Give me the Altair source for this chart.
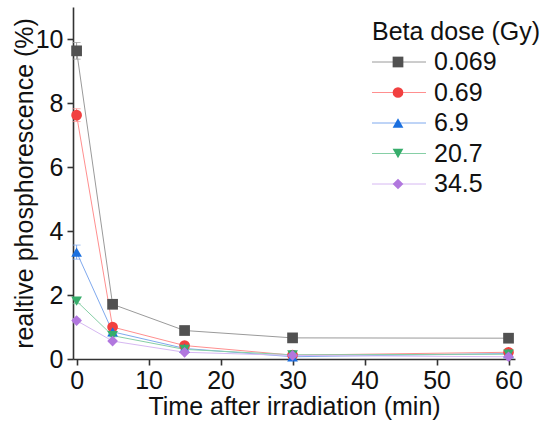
import altair as alt
import pandas as pd

times = [0, 5, 15, 30, 60]
doses = ["0.069", "0.69", "6.9", "20.7", "34.5"]
shapes = ["square", "circle", "triangle-up", "triangle-down", "diamond"]
marker_colors = ["#515151", "#F14040", "#1A6FDF", "#37AD6B", "#B177DE"]
line_colors = ["#9a9a9a", "#ff8f8f", "#7fa9ee", "#86cfa6", "#d6b8f2"]
legend_title = ["Beta dose (Gy)"]

v_0069 = [9.63, 1.71, 0.89, 0.66, 0.65]
v_069 = [7.62, 1.00, 0.42, 0.12, 0.21]
v_69 = [3.34, 0.85, 0.33, 0.07, 0.17]
v_207 = [1.81, 0.73, 0.30, 0.13, 0.15]
v_345 = [1.20, 0.56, 0.21, 0.11, 0.07]

e_0069 = [0.26, 0.05, 0.04, 0.02, 0.02]
e_069 = [0.20, 0.05, 0.03, 0.02, 0.02]
e_69 = [0.22, 0.05, 0.03, 0.02, 0.02]
e_207 = [0.08, 0.04, 0.02, 0.01, 0.01]
e_345 = [0.07, 0.03, 0.02, 0.01, 0.01]

values = [v_0069, v_069, v_69, v_207, v_345]
errors = [e_0069, e_069, e_69, e_207, e_345]

rows = []
for d, vals, errs in zip(doses, values, errors):
    for t, v, e in zip(times, vals, errs):
        rows.append({"time": t, "dose": d, "value": v, "lo": v - e, "hi": v + e})
df = pd.DataFrame(rows)
leg = pd.DataFrame({"dose": doses})
leg_title = pd.DataFrame({"t": legend_title})

FONT = "Liberation Sans"
FS = 25

xs = alt.Scale(domain=[-0.5, 60.9], nice=False, zero=False)
ys = alt.Scale(domain=[0, 11], nice=False)

x_axis = alt.Axis(
    values=list(range(0, 61, 5)),
    labelExpr="datum.value % 10 == 0 ? datum.label : ''",
    tickSize={"condition": {"test": "datum.value % 10 != 0", "value": 3.5}, "value": 6},
    title="Time after irradiation (min)",
    labelPadding=3, titlePadding=1,
)
y_axis = alt.Axis(
    values=list(range(0, 12)),
    labelExpr="datum.value % 2 == 0 ? datum.label : ''",
    tickSize={"condition": {"test": "datum.value % 2 != 0", "value": 3.5}, "value": 6},
    title="realtive phosphorescence (%)",
    labelPadding=4, titlePadding=-2,
)

stroke_scale = alt.Scale(domain=doses, range=line_colors)
fill_scale = alt.Scale(domain=doses, range=marker_colors)
shape_scale = alt.Scale(domain=doses, range=shapes)

base = alt.Chart(df)
lines = base.mark_line(strokeWidth=1).encode(
    x=alt.X("time:Q", scale=xs, axis=x_axis),
    y=alt.Y("value:Q", scale=ys, axis=y_axis),
    stroke=alt.Stroke("dose:N", scale=stroke_scale, legend=None),
    detail="dose:N",
)
err = base.mark_rule(strokeWidth=1).encode(
    x="time:Q", y="lo:Q", y2="hi:Q",
    stroke=alt.Stroke("dose:N", scale=stroke_scale, legend=None),
)
cap_lo = base.mark_tick(orient="horizontal", size=8, thickness=1).encode(
    x="time:Q", y="lo:Q",
    color=alt.Color("dose:N", scale=stroke_scale, legend=None),
)
cap_hi = base.mark_tick(orient="horizontal", size=8, thickness=1).encode(
    x="time:Q", y="hi:Q",
    color=alt.Color("dose:N", scale=stroke_scale, legend=None),
)
pts = base.mark_point(filled=True, size=115, opacity=1).encode(
    x="time:Q", y="value:Q",
    fill=alt.Fill("dose:N", scale=fill_scale, legend=None),
    shape=alt.Shape("dose:N", scale=shape_scale, legend=None),
)
main = alt.layer(lines, err, cap_lo, cap_hi, pts)

# legend positions are relative to the plot area's top-left corner
ly = alt.Y("dose:N", sort=doses, scale=alt.Scale(type="point", range=[55, 177], padding=0), axis=None)
lbase = alt.Chart(leg)
l_rule = lbase.mark_rule(strokeWidth=1).encode(
    x=alt.value(299), x2=alt.value(353), y=ly,
    stroke=alt.Stroke("dose:N", scale=stroke_scale, legend=None),
)
l_pts = lbase.mark_point(filled=True, size=115, opacity=1).encode(
    x=alt.value(325), y=ly,
    fill=alt.Fill("dose:N", scale=fill_scale, legend=None),
    shape=alt.Shape("dose:N", scale=shape_scale, legend=None),
)
l_txt = lbase.mark_text(align="left", baseline="middle", font=FONT, fontSize=FS, color="#111").encode(
    x=alt.value(361), y=ly, text="dose:N",
)
l_title = alt.Chart(leg_title).mark_text(align="left", baseline="middle", font=FONT, fontSize=FS,
                                         color="#111", fontWeight="normal").encode(
    x=alt.value(299), y=alt.value(25), text="t:N",
)
legend = alt.layer(l_rule, l_pts, l_txt, l_title)

chart = alt.layer(main, legend).resolve_scale(x="independent", y="independent").properties(
    width=442, height=352,
    autosize=alt.AutoSizeParams(type="none"),
    padding={"left": 73, "top": 7, "right": 26, "bottom": 63},
    background="white",
).configure_view(stroke=None).configure_axis(
    grid=False,
    domainColor="#333", domainWidth=1.6,
    tickColor="#333", tickWidth=1.6,
    labelFont=FONT, labelFontSize=FS, labelColor="#111",
    titleFont=FONT, titleFontSize=FS, titleFontWeight="normal", titleColor="#111",
)

chart.save("out.html", embed_options={"renderer": "svg", "actions": False})
